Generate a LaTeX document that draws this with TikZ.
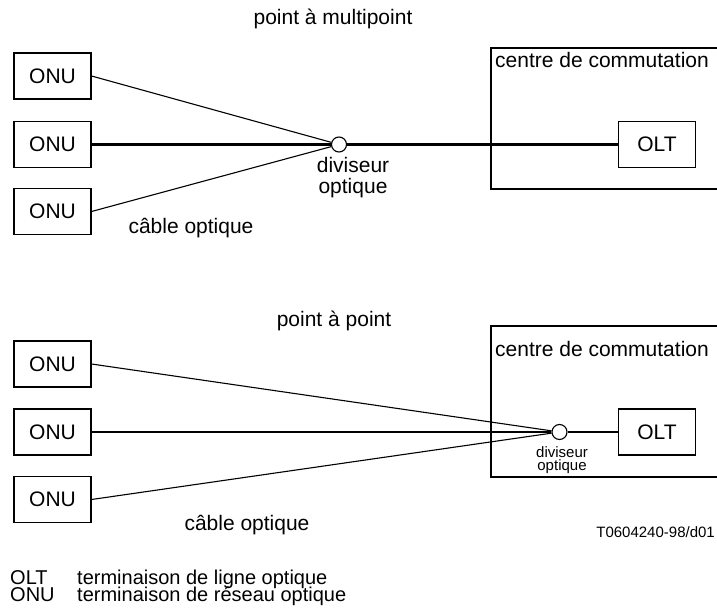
\documentclass[tikz,border=0pt]{standalone}
\usepackage{fontspec}
\setmainfont{Liberation Sans}
\begin{document}
\begin{tikzpicture}[x=1pt,y=-1pt,
  big/.style={font=\fontsize{21}{21}\selectfont},
  leg/.style={inner sep=0pt,anchor=base west,font=\fontsize{20}{20}\selectfont},
  small/.style={font=\fontsize{15}{15}\selectfont},
  box/.style={draw,line width=1.1pt,minimum width=77pt,minimum height=46pt,inner sep=0pt,big},
  lbl/.style={inner sep=0pt,anchor=base,big},
  slbl/.style={inner sep=0pt,anchor=base,small},
  spl/.style={circle,draw,line width=1.1pt,fill=white,minimum size=15pt,inner sep=0pt},
  fibre/.style={line width=1.1pt},
  trunk/.style={line width=2.3pt},
  frame/.style={line width=1.1pt}]
\useasboundingbox (0,0) rectangle (717,615);

% ---------- top: point a multipoint ----------
\node[lbl] (t1) at (333,25) {point à multipoint};
\draw[frame] (718,48) -- (491,48) -- (491,189) -- (718,189);
\node[lbl,anchor=base west] (cc1) at (495,68) {centre de commutation};
\node[box] (onu1) at (52.5,76) {ONU};
\node[box] (onu2) at (52.5,144.5) {ONU};
\node[box] (onu3) at (52.5,211.5) {ONU};
\node[box] (olt1) at (657,144.5) {OLT};
\node[spl] (s1) at (339,144.5) {};
\draw[fibre] (onu1.east) -- (s1);
\draw[trunk] (onu2.east) -- (s1);
\draw[fibre] (onu3.east) -- (s1);
\draw[trunk] (s1) -- (olt1.west);
\node[lbl] (d1a) at (353,172) {diviseur};
\node[lbl] (d1b) at (353,193) {optique};
\node[lbl] (c1) at (191,233) {câble optique};

% ---------- bottom: point a point ----------
\node[lbl] (t2) at (334,326) {point à point};
\draw[frame] (718,326) -- (491,326) -- (491,477) -- (718,477);
\node[lbl,anchor=base west] (cc2) at (495,356) {centre de commutation};
\node[box] (onu4) at (52.5,364) {ONU};
\node[box] (onu5) at (52.5,432) {ONU};
\node[box] (onu6) at (52.5,499.5) {ONU};
\node[box] (olt2) at (657,432) {OLT};
\node[spl] (s2) at (559.5,432) {};
\draw[fibre] (onu4.east) -- (s2);
\draw[trunk] (onu5.east) -- (s2);
\draw[fibre] (onu6.east) -- (s2);
\draw[trunk] (s2) -- (olt2.west);
\node[slbl] (d2a) at (562,457) {diviseur};
\node[slbl] (d2b) at (562,470) {optique};
\node[lbl] (c2) at (247,530) {câble optique};
\node[slbl,anchor=base east] (ref) at (715,537) {T0604240-98/d01};

% ---------- legend ----------
\node[leg] (k1) at (10,584) {OLT};
\node[leg] (v1) at (77,584) {terminaison de ligne optique};
\node[leg] (k2) at (10,601) {ONU};
\node[leg] (v2) at (77,601) {terminaison de réseau optique};
\end{tikzpicture}
\end{document}
